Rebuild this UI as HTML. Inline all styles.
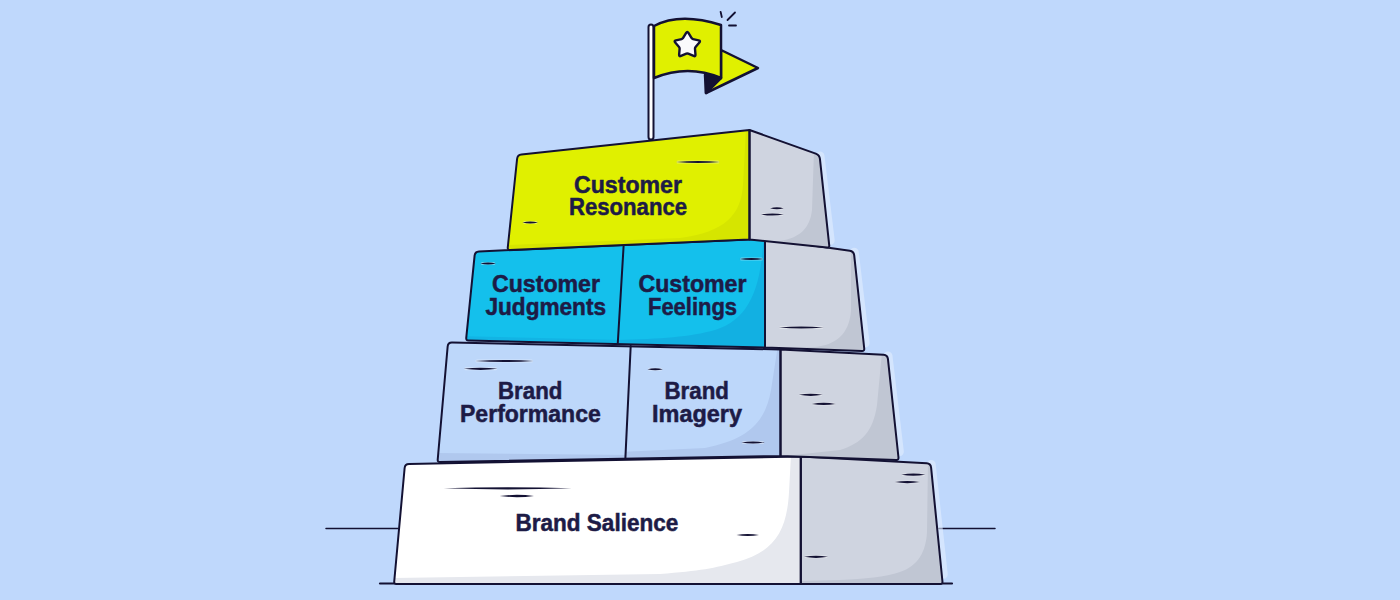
<!DOCTYPE html>
<html><head><meta charset="utf-8">
<style>
html,body{margin:0;padding:0;width:1400px;height:600px;overflow:hidden;background:#BFD8FC;}
svg{display:block;}
text{font-family:"Liberation Sans",sans-serif;font-weight:bold;fill:#1D1B46;stroke:#1D1B46;stroke-width:0.5;}
</style></head><body>
<svg width="1400" height="600" viewBox="0 0 1400 600">
<defs>
<clipPath id="cBase"><polygon points="405,464 800.8,456.5 800.8,584 394,584"/></clipPath>
<clipPath id="cBaseS"><polygon points="800.8,456.5 930.7,463.5 942.7,584 800.8,584"/></clipPath>
<clipPath id="cT3S"><polygon points="780.5,349.5 887.5,355 898.75,460 780.5,456"/></clipPath>
<clipPath id="cT2S"><polygon points="765,238.75 853.75,251.25 864.5,351 765,347.5"/></clipPath>
<clipPath id="cT1"><polygon points="517.5,155 749.5,130 749.5,239.5 507.5,250"/></clipPath>
<clipPath id="cT1S"><polygon points="749.5,130 819.5,155 829.5,247.8 749.5,239.5"/></clipPath>
<clipPath id="cT3L"><polygon points="448,342.5 630.7,346 625.4,457.9 437.5,462"/></clipPath>
<clipPath id="cT3R"><polygon points="630.7,346 780.5,349.5 780.5,456 625.4,457.9"/></clipPath>
<clipPath id="cT2L"><polygon points="475,251.6 623.6,246 617.8,343 466,340.4"/></clipPath>
<clipPath id="cT2R"><polygon points="623.6,246 765,238.75 765,347.5 617.8,343"/></clipPath>
</defs>
<rect x="0" y="0" width="1400" height="600" fill="#BFD8FC"/>
<g stroke="#131133" stroke-linecap="round" fill="none"><line x1="326" y1="528.5" x2="398" y2="528.5" stroke-width="1.5"/><line x1="939" y1="528.5" x2="995" y2="528.5" stroke-width="1.5"/><line x1="380" y1="583.5" x2="952" y2="583.5" stroke-width="2.2"/></g>
<g stroke="#E2EEFF" stroke-width="9" stroke-linejoin="round" stroke-linecap="round" fill="none" opacity="0.6">
<polyline points="931.2,464.5 943.24,574.36"/>
<polyline points="888.0,356 899.35,451.6"/>
<polyline points="854.25,252.25 865.14,343.02"/>
<polyline points="820.0,156 830.2,240.37600000000003"/>
</g>
<path d="M404.63,467.98 Q405.00,464.00 409.00,463.92 L800.79,456.50 Q800.80,456.50 800.80,456.51 L800.80,583.99 Q800.80,584.00 800.79,584.00 L396.50,584.00 Q394.00,584.00 394.23,581.51 Z" fill="#FFFFFF"/>
<path clip-path="url(#cBase)" d="M791,455 L789,492 C787,530 775,552 737,562 C715,568 700,571 660,574 L390,578 L390,600 L810,600 L810,455 Z" fill="#E6E8EE"/>
<path d="M800.80,456.51 Q800.80,456.50 800.81,456.50 L926.71,463.28 Q930.70,463.50 931.10,467.48 L942.45,581.51 Q942.70,584.00 940.20,584.00 L800.81,584.00 Q800.80,584.00 800.80,583.99 Z" fill="#CFD4E0"/>
<path clip-path="url(#cBaseS)" d="M928,460 L927,532 C926,552 918,566 900,572 C885,577 865,579 840,580 L795,581 L795,600 L950,600 L950,460 Z" fill="#C0C6D3"/>
<g stroke="#131133" stroke-width="2.0" stroke-linejoin="round" stroke-linecap="round" fill="none">
<path d="M404.63,467.98 Q405.00,464.00 409.00,463.92 L800.79,456.50 Q800.80,456.50 800.80,456.51 L800.80,583.99 Q800.80,584.00 800.79,584.00 L396.50,584.00 Q394.00,584.00 394.23,581.51 Z"/><path d="M800.80,456.51 Q800.80,456.50 800.81,456.50 L926.71,463.28 Q930.70,463.50 931.10,467.48 L942.45,581.51 Q942.70,584.00 940.20,584.00 L800.81,584.00 Q800.80,584.00 800.80,583.99 Z"/>
</g>
<path d="M447.65,346.48 Q448.00,342.50 452.00,342.58 L780.49,349.50 Q780.50,349.50 780.50,349.51 L780.50,455.99 Q780.50,456.00 780.49,456.00 L440.00,461.96 Q437.50,462.00 437.72,459.51 Z" fill="#BDD7FA"/>
<path clip-path="url(#cT3L)" d="M430,453 L630,455 L630,470 L430,470 Z" fill="#B0C8EE"/>
<path clip-path="url(#cT3R)" d="M778,345 L771,390 C765,425 745,440 705,448 L620,452 L620,470 L790,470 L790,345 Z" fill="#B0C8EE"/>
<path d="M780.50,349.51 Q780.50,349.50 780.51,349.50 L883.51,354.79 Q887.50,355.00 887.93,358.98 L898.48,457.51 Q898.75,460.00 896.25,459.92 L780.51,456.00 Q780.50,456.00 780.50,455.99 Z" fill="#CFD4E0"/>
<path clip-path="url(#cT3S)" d="M882,352 L877,405 C873,432 862,443 840,450 L775,457 L775,470 L905,470 L905,352 Z" fill="#C0C6D3"/>
<g stroke="#131133" stroke-width="2.0" stroke-linejoin="round" stroke-linecap="round" fill="none">
<path d="M447.65,346.48 Q448.00,342.50 452.00,342.58 L780.49,349.50 Q780.50,349.50 780.50,349.51 L780.50,455.99 Q780.50,456.00 780.49,456.00 L440.00,461.96 Q437.50,462.00 437.72,459.51 Z"/><path d="M780.50,349.51 Q780.50,349.50 780.51,349.50 L883.51,354.79 Q887.50,355.00 887.93,358.98 L898.48,457.51 Q898.75,460.00 896.25,459.92 L780.51,456.00 Q780.50,456.00 780.50,455.99 Z"/>
<line x1="630.7" y1="346" x2="625.4" y2="457.9"/>
</g>
<path d="M474.60,255.58 Q475.00,251.60 479.00,251.42 L764.99,238.75 Q765.00,238.75 765.00,238.76 L765.00,347.49 Q765.00,347.50 764.99,347.50 L468.50,340.46 Q466.00,340.40 466.25,337.91 Z" fill="#14C0EC"/>
<path clip-path="url(#cT2L)" d="M460,336 L625,340 L625,360 L460,360 Z" fill="#12B4E4"/>
<path clip-path="url(#cT2R)" d="M764,236 L763,245 C760,290 748,320 715,330 C690,337 660,339 615,340 L615,360 L770,360 L770,236 Z" fill="#12B0E2"/>
<path d="M765.00,238.76 Q765.00,238.75 765.01,238.75 L849.79,250.69 Q853.75,251.25 854.18,255.23 L864.23,348.51 Q864.50,351.00 862.00,350.91 L765.01,347.50 Q765.00,347.50 765.00,347.49 Z" fill="#CFD4E0"/>
<path clip-path="url(#cT2S)" d="M851,245 L851,311 C849,335 835,345 815,347 L760,349 L760,360 L870,360 L870,245 Z" fill="#C0C6D3"/>
<g stroke="#131133" stroke-width="2.0" stroke-linejoin="round" stroke-linecap="round" fill="none">
<path d="M474.60,255.58 Q475.00,251.60 479.00,251.42 L764.99,238.75 Q765.00,238.75 765.00,238.76 L765.00,347.49 Q765.00,347.50 764.99,347.50 L468.50,340.46 Q466.00,340.40 466.25,337.91 Z"/><path d="M765.00,238.76 Q765.00,238.75 765.01,238.75 L849.79,250.69 Q853.75,251.25 854.18,255.23 L864.23,348.51 Q864.50,351.00 862.00,350.91 L765.01,347.50 Q765.00,347.50 765.00,347.49 Z"/>
<line x1="623.6" y1="246" x2="617.8" y2="343"/>
</g>
<path d="M517.08,158.98 Q517.50,155.00 521.48,154.57 L749.49,130.00 Q749.50,130.00 749.50,130.01 L749.50,239.49 Q749.50,239.50 749.49,239.50 L510.00,249.89 Q507.50,250.00 507.76,247.51 Z" fill="#E0F000"/>
<path clip-path="url(#cT1)" d="M746,128 L743,185 C741,215 725,232 680,238 L505,245 L505,260 L760,260 L760,128 Z" fill="#D6E500"/>
<path d="M749.50,130.01 Q749.50,130.00 749.51,130.00 L815.73,153.65 Q819.50,155.00 819.93,158.98 L829.23,245.31 Q829.50,247.80 827.01,247.54 L749.51,239.50 Q749.50,239.50 749.50,239.49 Z" fill="#CFD4E0"/>
<path clip-path="url(#cT1S)" d="M814,150 L812,210 C810,228 800,238 780,241 L745,242 L745,260 L840,260 L840,150 Z" fill="#C0C6D3"/>
<g stroke="#131133" stroke-width="2.0" stroke-linejoin="round" stroke-linecap="round" fill="none">
<path d="M517.08,158.98 Q517.50,155.00 521.48,154.57 L749.49,130.00 Q749.50,130.00 749.50,130.01 L749.50,239.49 Q749.50,239.50 749.49,239.50 L510.00,249.89 Q507.50,250.00 507.76,247.51 Z"/><path d="M749.50,130.01 Q749.50,130.00 749.51,130.00 L815.73,153.65 Q819.50,155.00 819.93,158.98 L829.23,245.31 Q829.50,247.80 827.01,247.54 L749.51,239.50 Q749.50,239.50 749.50,239.49 Z"/>
</g>
<g fill="none" stroke="#FFFFFF" stroke-width="3" stroke-linecap="round" opacity="0.35">
<line x1="678" y1="162" x2="718" y2="162"/>
<line x1="524.5" y1="222.5" x2="536" y2="222.5"/>
<line x1="772" y1="208.25" x2="781.75" y2="208.25"/>
<line x1="763" y1="214.5" x2="781.75" y2="214.5"/>
<line x1="482.3" y1="263.5" x2="493.9" y2="263.5"/>
<line x1="741.4" y1="259" x2="761.5" y2="259"/>
<line x1="780.75" y1="327.5" x2="821.75" y2="327.5"/>
<line x1="477" y1="361" x2="531.6" y2="361"/>
<line x1="465.8" y1="368.8" x2="495.6" y2="368.8"/>
<line x1="649.5" y1="369.3" x2="660.9" y2="369.3"/>
<line x1="743.4" y1="442.5" x2="762.6" y2="442.5"/>
<line x1="800.8" y1="394.8" x2="820.6" y2="394.8"/>
<line x1="813.8" y1="403.9" x2="833.6" y2="403.9"/>
<line x1="445.7" y1="488.3" x2="569.7" y2="488.3"/>
<line x1="501.7" y1="496" x2="532" y2="496"/>
<line x1="738.5" y1="535" x2="757" y2="535"/>
<line x1="903.3" y1="474.7" x2="923.3" y2="474.7"/>
<line x1="896.7" y1="482.1" x2="918" y2="482.1"/>
<line x1="806" y1="556.8" x2="826" y2="556.8"/>
</g>
<g fill="#131133">
<path d="M676,162 Q698.0,159.84 720,162 Q698.0,164.16 676,162 Z"/>
<path d="M522.5,222.5 Q530.25,220.34 538,222.5 Q530.25,224.66 522.5,222.5 Z"/>
<path d="M770,208.25 Q776.875,206.27 783.75,208.25 Q776.875,210.23 770,208.25 Z"/>
<path d="M761,214.5 Q772.375,212.34 783.75,214.5 Q772.375,216.66 761,214.5 Z"/>
<path d="M480.3,263.5 Q488.1,261.34 495.9,263.5 Q488.1,265.66 480.3,263.5 Z"/>
<path d="M739.4,259 Q751.45,256.84 763.5,259 Q751.45,261.16 739.4,259 Z"/>
<path d="M778.75,327.5 Q801.25,325.34 823.75,327.5 Q801.25,329.66 778.75,327.5 Z"/>
<path d="M475,361 Q504.3,359.02 533.6,361 Q504.3,362.98 475,361 Z"/>
<path d="M463.8,368.8 Q480.70000000000005,366.64 497.6,368.8 Q480.70000000000005,370.96000000000004 463.8,368.8 Z"/>
<path d="M647.5,369.3 Q655.2,367.32 662.9,369.3 Q655.2,371.28000000000003 647.5,369.3 Z"/>
<path d="M741.4,442.5 Q753.0,440.34 764.6,442.5 Q753.0,444.66 741.4,442.5 Z"/>
<path d="M798.8,394.8 Q810.7,392.64 822.6,394.8 Q810.7,396.96000000000004 798.8,394.8 Z"/>
<path d="M811.8,403.9 Q823.7,401.73999999999995 835.6,403.9 Q823.7,406.06 811.8,403.9 Z"/>
<path d="M443.7,488.3 Q507.70000000000005,486.14 571.7,488.3 Q507.70000000000005,490.46000000000004 443.7,488.3 Z"/>
<path d="M499.7,496 Q516.85,493.66 534,496 Q516.85,498.34 499.7,496 Z"/>
<path d="M736.5,535 Q747.75,533.02 759,535 Q747.75,536.98 736.5,535 Z"/>
<path d="M901.3,474.7 Q913.3,472.53999999999996 925.3,474.7 Q913.3,476.86 901.3,474.7 Z"/>
<path d="M894.7,482.1 Q907.35,479.94 920,482.1 Q907.35,484.26000000000005 894.7,482.1 Z"/>
<path d="M804,556.8 Q816.0,554.64 828,556.8 Q816.0,558.9599999999999 804,556.8 Z"/>
</g>
<rect x="648.5" y="24.5" width="5" height="115" rx="2.5" fill="#FFFFFF" stroke="#131133" stroke-width="2"/>
<g stroke="#131133" stroke-width="2.5" stroke-linejoin="round">
<polygon points="721,50 758,68 706,93 706,75 721,78" fill="#E0F000"/>
<polygon points="705,75 721,78 706,93" fill="#131133"/>
<path d="M654,26 Q680,12 721,25 L721,78 Q688,64 654,78 Z" fill="#E0F000"/>
<path d="M686.16,32.98 Q687.30,31.10 688.44,32.98 L691.48,37.98 Q692.00,38.83 692.97,39.06 L698.67,40.40 Q700.81,40.91 699.38,42.58 L695.56,47.01 Q694.91,47.77 694.99,48.77 L695.47,54.60 Q695.65,56.79 693.62,55.94 L688.22,53.69 Q687.30,53.30 686.38,53.69 L680.98,55.94 Q678.95,56.79 679.13,54.60 L679.61,48.77 Q679.69,47.77 679.04,47.01 L675.22,42.58 Q673.79,40.91 675.93,40.40 L681.63,39.06 Q682.60,38.83 683.12,37.98 Z" fill="#FAFAFC" stroke-width="2.4"/>
<line x1="720.6" y1="11.8" x2="721.8" y2="17" stroke-width="1.8" stroke-linecap="round"/>
<line x1="727.5" y1="20" x2="735" y2="12.5" stroke-width="1.8" stroke-linecap="round"/>
<line x1="729" y1="25.5" x2="736" y2="25.5" stroke-width="1.8" stroke-linecap="round"/>
</g>
<text x="574.0" y="192.5" font-size="23" textLength="108.0" lengthAdjust="spacingAndGlyphs">Customer</text>
<text x="569.0" y="215.0" font-size="23" textLength="118.0" lengthAdjust="spacingAndGlyphs">Resonance</text>
<text x="492.0" y="292.0" font-size="23" textLength="108.0" lengthAdjust="spacingAndGlyphs">Customer</text>
<text x="485.5" y="314.5" font-size="23" textLength="120.5" lengthAdjust="spacingAndGlyphs">Judgments</text>
<text x="638.5" y="292.0" font-size="23" textLength="108.0" lengthAdjust="spacingAndGlyphs">Customer</text>
<text x="648.0" y="314.5" font-size="23" textLength="89.0" lengthAdjust="spacingAndGlyphs">Feelings</text>
<text x="498.0" y="399.1" font-size="23" textLength="64.4" lengthAdjust="spacingAndGlyphs">Brand</text>
<text x="460.0" y="421.5" font-size="23" textLength="140.8" lengthAdjust="spacingAndGlyphs">Performance</text>
<text x="664.5" y="399.0" font-size="23" textLength="64.5" lengthAdjust="spacingAndGlyphs">Brand</text>
<text x="652.0" y="421.5" font-size="23" textLength="90.0" lengthAdjust="spacingAndGlyphs">Imagery</text>
<text x="515.6" y="531.3" font-size="23" textLength="162.6" lengthAdjust="spacingAndGlyphs">Brand Salience</text>
</svg>
</body></html>
